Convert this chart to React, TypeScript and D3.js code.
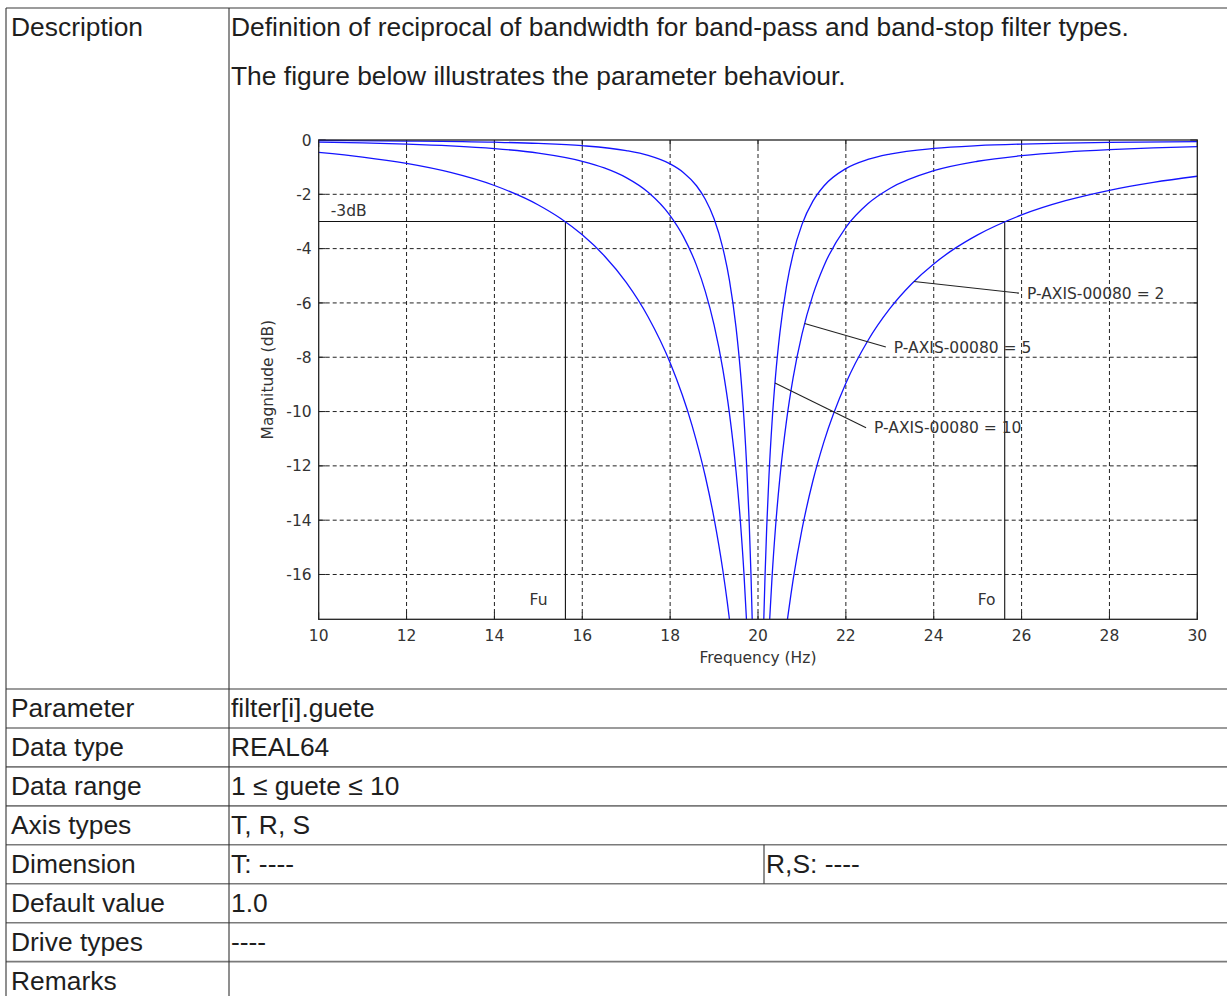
import React, { useEffect } from 'react';
import * as d3 from 'd3';

// ---------- table content ----------
const rowLabels = ['Parameter', 'Data type', 'Data range', 'Axis types', 'Dimension', 'Default value', 'Drive types', 'Remarks'];
const rowValues = ['filter[i].guete', 'REAL64', '1 ≤ guete ≤ 10', 'T, R, S', 'T: ----', '1.0', '----', ''];
const dimensionExtra = 'R,S: ----';
const descriptionLines = [
  'Definition of reciprocal of bandwidth for band-pass and band-stop filter types.',
  'The figure below illustrates the parameter behaviour.',
];

// ---------- chart content ----------
const freqTicks = [10, 12, 14, 16, 18, 20, 22, 24, 26, 28, 30];
const magTicks = [0, -2, -4, -6, -8, -10, -12, -14, -16];
const xTitle = 'Frequency (Hz)';
const yTitle = 'Magnitude (dB)';

// Band-stop response, quality 2 (left and right branch of the notch)
const q2Left: [number, number][] = [
  [10, -0.458], [11, -0.628], [12, -0.863], [13, -1.195], [14, -1.676], [15, -2.392], [15.5, -2.881],
  [16, -3.492], [16.5, -4.262], [17, -5.245], [17.5, -6.517], [18, -8.202], [18.5, -10.516],
  [18.8, -12.382], [19, -13.933], [19.2, -15.853], [19.3, -17.009], [19.35, -17.65],
];
const q2Right: [number, number][] = [
  [20.67, -17.65], [20.75, -16.73], [20.8, -16.192], [21, -14.351], [21.25, -12.549], [21.5, -11.116],
  [22, -8.954], [22.5, -7.391], [23, -6.211], [23.5, -5.292], [24, -4.563], [24.5, -3.974], [25, -3.492],
  [26, -2.759], [27, -2.236], [28, -1.852], [29, -1.561], [30, -1.335],
];
// quality 5
const q5Left: [number, number][] = [
  [10, -0.077], [11, -0.107], [12, -0.15], [13, -0.215], [14, -0.316], [15, -0.483], [16, -0.783],
  [16.5, -1.027], [17, -1.384], [17.5, -1.924], [18, -2.782], [18.3, -3.549], [18.6, -4.617],
  [18.8, -5.573], [19, -6.81], [19.2, -8.449], [19.35, -10.068], [19.5, -12.2], [19.6, -14.065],
  [19.68, -15.959], [19.737, -17.65],
];
const q5Right: [number, number][] = [
  [20.266, -17.65], [20.32, -16.094], [20.4, -14.232], [20.5, -12.405], [20.65, -10.323], [20.8, -8.749],
  [21, -7.158], [21.25, -5.703], [21.5, -4.637], [22, -3.217], [22.5, -2.349], [23, -1.786], [24, -1.131],
  [25, -0.783], [26, -0.577], [27, -0.444], [28, -0.355], [29, -0.291], [30, -0.243],
];
// quality 10
const q10Left: [number, number][] = [
  [10, -0.019], [12, -0.038], [14, -0.081], [15, -0.126], [16, -0.209], [17, -0.39], [17.5, -0.567],
  [18, -0.879], [18.3, -1.193], [18.6, -1.685], [18.8, -2.18], [19, -2.899], [19.2, -3.978],
  [19.35, -5.171], [19.5, -6.901], [19.6, -8.528], [19.68, -10.257], [19.75, -12.253], [19.8, -14.108],
  [19.84, -15.993], [19.868, -17.65],
];
const q10Right: [number, number][] = [
  [20.132, -17.65], [20.16, -16.061], [20.2, -14.191], [20.25, -12.355], [20.32, -10.383], [20.4, -8.677],
  [20.5, -7.075], [20.65, -5.37], [20.8, -4.19], [21, -3.116], [21.25, -2.252], [21.5, -1.694],
  [22, -1.053], [22.5, -0.717], [23, -0.52], [24, -0.312], [25, -0.209], [26, -0.151], [27, -0.115],
  [28, -0.091], [30, -0.062],
];
const curves = [q2Left, q2Right, q5Left, q5Right, q10Left, q10Right];

// -3 dB reference and cutoff frequencies
const cutoffLevel = -3;
const cutoffLabel = '-3dB';
const cutoffFreqs = [15.616, 25.616];
const cutoffNames = ['Fu', 'Fo'];
const cutoffNameX = [14.8, 25.0];

// annotations: from point on curve to label anchor
const annotLabels = ['P-AXIS-00080 = 2', 'P-AXIS-00080 = 5', 'P-AXIS-00080 = 10'];
const annotFrom: [number, number][] = [[23.55, -5.21], [21.06, -6.76], [20.387, -8.95]];
const annotTo: [number, number][] = [[25.94, -5.64], [22.91, -7.62], [22.46, -10.6]];

export default function App() {
  useEffect(() => {
    document.body.style.margin = '0';
    document.body.style.overflow = 'hidden';
  }, []);

  const W = 1227, H = 996;
  const x = d3.scaleLinear().domain([10, 30]).range([318.7, 1197.3]);
  const y = d3.scaleLinear().domain([-17.65, 0]).range([619.3, 140]);
  const line = d3.line<[number, number]>().x(d => x(d[0])).y(d => y(d[1])).curve(d3.curveMonotoneX);

  const x0 = x(10), x1 = x(30), y0 = y(0), y1 = y(-17.65);
  const chartFont = '"DejaVu Sans", Verdana, sans-serif';
  const tableFont = '"Liberation Sans", Arial, Helvetica, sans-serif';
  const tick = 7;

  // table geometry
  const tLeft = 6, tTop = 8, colDiv = 229, descBottom = 689, rowH = 38.95, dimDiv = 764;
  const rowTops = rowLabels.map((_, i) => descBottom + i * rowH);

  return (
    <svg width={W} height={H} style={{ position: 'absolute', left: 0, top: 0, background: '#fff' }}>
      <rect x={0} y={0} width={W} height={H} fill="#fff" />
      {/* ---------- table ---------- */}
      <g fontFamily={tableFont} fontSize={26.4} fill="#1e1e1e">
        <text x={11} y={tTop + 28.3}>Description</text>
        <text x={231} y={tTop + 28.3}>{descriptionLines[0]}</text>
        <text x={231} y={tTop + 77}>{descriptionLines[1]}</text>
        {rowLabels.map((l, i) => (
          <text key={'l' + i} x={11} y={rowTops[i] + 28.3}>{l}</text>
        ))}
        {rowValues.map((v, i) => (
          <text key={'v' + i} x={231} y={rowTops[i] + 28.3}>{v}</text>
        ))}
        <text x={dimDiv + 2} y={rowTops[4] + 28.3}>{dimensionExtra}</text>
      </g>
      <g stroke="#7a7a7a" strokeWidth={1.6}>
        <line x1={tLeft} x2={W} y1={tTop} y2={tTop} />
        {rowTops.map((t, i) => (
          <line key={'h' + i} x1={tLeft} x2={W} y1={t} y2={t} />
        ))}
      </g>
      <g stroke="#333" strokeWidth={1.1}>
        <line x1={tLeft} x2={tLeft} y1={tTop} y2={H} />
        <line x1={colDiv} x2={colDiv} y1={tTop} y2={H} />
        <line x1={dimDiv} x2={dimDiv} y1={rowTops[4]} y2={rowTops[5]} />
      </g>

      {/* ---------- chart ---------- */}
      <g>
        {/* grid */}
        <g stroke="#222" strokeWidth={1} strokeDasharray="4,3">
          {freqTicks.slice(1, -1).map(f => (
            <line key={'gx' + f} x1={x(f)} x2={x(f)} y1={y0} y2={y1} />
          ))}
          {magTicks.slice(1).map(m => (
            <line key={'gy' + m} x1={x0} x2={x1} y1={y(m)} y2={y(m)} />
          ))}
        </g>
        {/* ticks */}
        <g stroke="#222" strokeWidth={1}>
          {freqTicks.map(f => (
            <g key={'tx' + f}>
              <line x1={x(f)} x2={x(f)} y1={y1} y2={y1 - tick} />
              <line x1={x(f)} x2={x(f)} y1={y0} y2={y0 + tick} />
            </g>
          ))}
          {magTicks.map(m => (
            <g key={'ty' + m}>
              <line x1={x0} x2={x0 + tick} y1={y(m)} y2={y(m)} />
              <line x1={x1} x2={x1 - tick} y1={y(m)} y2={y(m)} />
            </g>
          ))}
        </g>
        {/* -3 dB line and cutoff markers */}
        <g stroke="#111" strokeWidth={1.1}>
          <line x1={x0} x2={x1} y1={y(cutoffLevel)} y2={y(cutoffLevel)} />
          {cutoffFreqs.map(f => (
            <line key={'c' + f} x1={x(f)} x2={x(f)} y1={y(cutoffLevel)} y2={y1} />
          ))}
        </g>
        {/* curves */}
        <g fill="none" stroke="#1414ff" strokeWidth={1.3}>
          {curves.map((c, i) => (
            <path key={'c' + i} d={line(c) || ''} />
          ))}
        </g>
        {/* annotation leader lines */}
        <g stroke="#222" strokeWidth={1.1}>
          {annotFrom.map((p, i) => (
            <line key={'a' + i} x1={x(p[0])} y1={y(p[1])} x2={x(annotTo[i][0])} y2={y(annotTo[i][1])} />
          ))}
        </g>
        {/* box */}
        <rect x={x0} y={y0} width={x1 - x0} height={y1 - y0} fill="none" stroke="#222" strokeWidth={1.3} />
        {/* texts */}
        <g fontFamily={chartFont} fontSize={15.5} fill="#333">
          {freqTicks.map(f => (
            <text key={'lx' + f} x={x(f)} y={y1 + 21.5} textAnchor="middle">{String(f)}</text>
          ))}
          {magTicks.map(m => (
            <text key={'ly' + m} x={x0 - 7} y={y(m)} dy="0.36em" textAnchor="end">{String(m)}</text>
          ))}
          <text x={(x0 + x1) / 2} y={y1 + 44} textAnchor="middle">{xTitle}</text>
          <text transform={`translate(${x0 - 46},${(y0 + y1) / 2}) rotate(-90)`} textAnchor="middle">{yTitle}</text>
          <text x={x0 + 12} y={y(cutoffLevel) - 5}>{cutoffLabel}</text>
          {cutoffNames.map((n, i) => (
            <text key={'n' + i} x={x(cutoffNameX[i])} y={y(-17.13)}>{n}</text>
          ))}
          {annotLabels.map((l, i) => (
            <text key={'al' + i} x={x(annotTo[i][0]) + 8} y={y(annotTo[i][1])} dy="0.36em">{l}</text>
          ))}
        </g>
      </g>
    </svg>
  );
}
